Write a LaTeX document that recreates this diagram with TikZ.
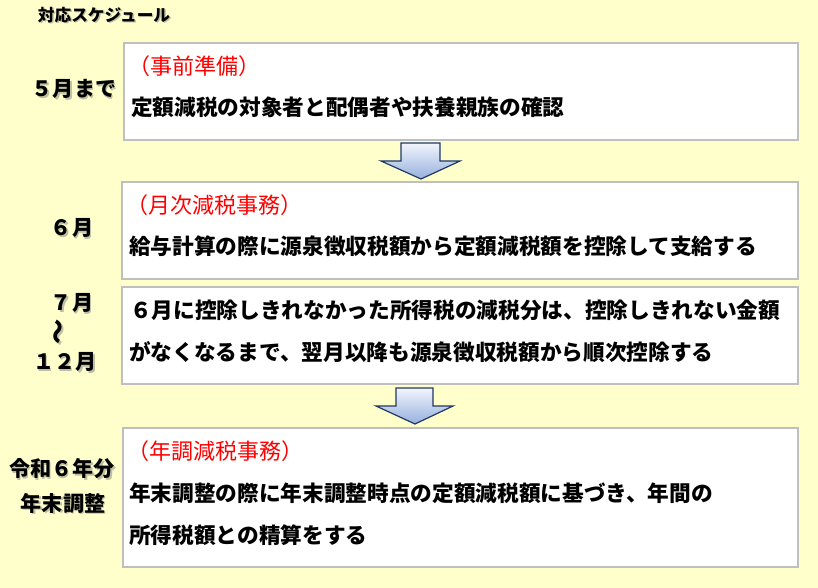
\documentclass[tikz,border=0pt]{standalone}
\usepackage{fontspec}
\setmainfont{Noto Sans CJK JP}
\definecolor{paper}{RGB}{255,255,204}
\definecolor{frame}{RGB}{191,191,191}
\definecolor{navy}{RGB}{31,56,100}
\definecolor{arrowtop}{RGB}{242,245,252}
\definecolor{arrowbot}{RGB}{150,176,222}
\definecolor{headred}{RGB}{255,0,0}
\tikzset{
  box/.style={draw=frame, line width=1.2pt, fill=white, anchor=north west, inner sep=0pt},
  body/.style={font=\fontsize{16.25}{16.25}\selectfont\bfseries, anchor=west, inner sep=0pt},
  head/.style={font=\fontsize{16.5}{16.5}\selectfont, text=headred, anchor=west, inner sep=0pt},
  when/.style={font=\fontsize{15.8}{15.8}\selectfont\bfseries, inner sep=0pt},
  wavemark/.style={font=\fontsize{19}{19}\selectfont\bfseries, rotate=90, inner sep=0pt},
  downarrow/.style={draw=navy, line width=0.9pt, top color=arrowtop, bottom color=arrowbot, line join=miter}
}
% label with a soft shadow under it
\newcommand\whenlabel[3]{%
  \node[when, text=black!55, opacity=.45] at ([shift={(1.5,1.5)}]#2) {#3};
  \node[when] (#1) at (#2) {#3};}
\begin{document}
\begin{tikzpicture}[x=0.75pt, y=-0.75pt]
\fill[paper] (0,0) rectangle (818,588);
\useasboundingbox (0,0) rectangle (818,588);
% title
\node[font=\fontsize{12.5}{12.5}\selectfont\bfseries, text=black!55, opacity=.45, inner sep=0pt] at (105.5,16.5) {対応スケジュール};
\node[font=\fontsize{12.5}{12.5}\selectfont\bfseries, inner sep=0pt] (title) at (104,15) {対応スケジュール};
% boxes
\node[box, minimum width=505.5pt, minimum height=72.75pt] (prep) at (123,42) {};
\node[box, minimum width=507pt, minimum height=72.75pt] (june) at (121,181) {};
\node[box, minimum width=507pt, minimum height=72.75pt] (later) at (121,286) {};
\node[box, minimum width=506.25pt, minimum height=104.25pt] (yearend) at (122,427) {};
% texts in the boxes
\node[head] (prephead) at (128,66) {（事前準備）};
\node[body] (prepbody) at (131,107) {定額減税の対象者と配偶者や扶養親族の確認};
\node[head] (junehead) at (126,205) {（月次減税事務）};
\node[body] (junebody) at (129,246) {給与計算の際に源泉徴収税額から定額減税額を控除して支給する};
\node[body] (laterone) at (130,310) {６月に控除しきれなかった所得税の減税分は、控除しきれない金額};
\node[body] (latertwo) at (129,352) {がなくなるまで、翌月以降も源泉徴収税額から順次控除する};
\node[head] (yearhead) at (127,451) {（年調減税事務）};
\node[body] (yearone) at (129,493) {年末調整の際に年末調整時点の定額減税額に基づき、年間の};
\node[body] (yeartwo) at (129,535) {所得税額との精算をする};
% period labels
\whenlabel{may}{74,89}{５月まで}
\whenlabel{jun}{72,228}{６月}
\whenlabel{jul}{72,303}{７月}
\node[wavemark, text=black!55, opacity=.45] at (62.5,333.5) {～};
\node[wavemark] (wave) at (61,332) {～};
\whenlabel{dec}{65,362}{１２月}
\whenlabel{reiwa}{62,469}{令和６年分}
\whenlabel{nencho}{63,503}{年末調整}
% block arrows
\draw[downarrow] (401,143) -- (440,143) -- (440,161) -- (460,161) -- (421,179) -- (381,161) -- (401,161) -- cycle;
\draw[downarrow] (396,388) -- (433,388) -- (433,406) -- (453,406) -- (415,424) -- (376,406) -- (396,406) -- cycle;
\end{tikzpicture}
\end{document}
